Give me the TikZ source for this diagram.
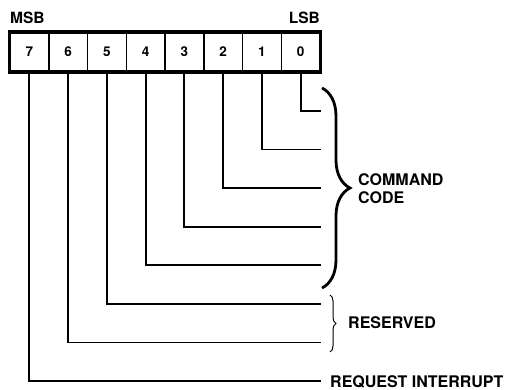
\documentclass[tikz,border=0pt]{standalone}
\usepackage{fontspec}
\setmainfont{TeX Gyre Heros}
\usetikzlibrary{decorations.pathreplacing}

\begin{document}
\begin{tikzpicture}[x=1pt, y=-1pt,
  bitcell/.style={rectangle, draw, line width=1.5pt, minimum width=38.75pt, minimum height=38pt,
                  inner sep=0pt, font=\bfseries\fontsize{13.5}{13.5}\selectfont},
  lbl/.style={font=\bfseries\fontsize{16}{18}\selectfont, inner sep=0pt, align=left},
  wire/.style={line width=1.8pt}]
  \useasboundingbox (0,0) rectangle (507,390);
  \foreach \b in {0,...,7}
    \node[bitcell] (b\b) at ({320-19.375-38.75*\b},52) {\b};
  \draw[line width=3pt] ([yshift=1pt]b7.north west) rectangle ([yshift=-1pt]b0.south east);
  \node[lbl, font=\bfseries\fontsize{15.5}{15.5}\selectfont, anchor=west] (msb) at (10,18) {MSB};
  \node[lbl, font=\bfseries\fontsize{15.5}{15.5}\selectfont, anchor=east] (lsb) at (320,18) {LSB};
  \foreach \b in {0,...,7} {
    \coordinate (e\b) at (321,{111+38.6*\b});
    \draw[wire] (b\b.south) |- (e\b);
  }
  \draw[line width=2.8pt, decorate, decoration={brace, amplitude=28pt}] (322,88) -- (322,288);
  \node[lbl, anchor=west] (cmd) at (358,189) {COMMAND\\CODE};
  \draw[line width=1pt, decorate, decoration={brace, amplitude=6pt}] (330,295) -- (330,352);
  \node[lbl, anchor=west] (rsv) at (348,323) {RESERVED};
  \node[lbl, anchor=west] (ri) at (330,382) {REQUEST INTERRUPT};
\end{tikzpicture}
\end{document}
